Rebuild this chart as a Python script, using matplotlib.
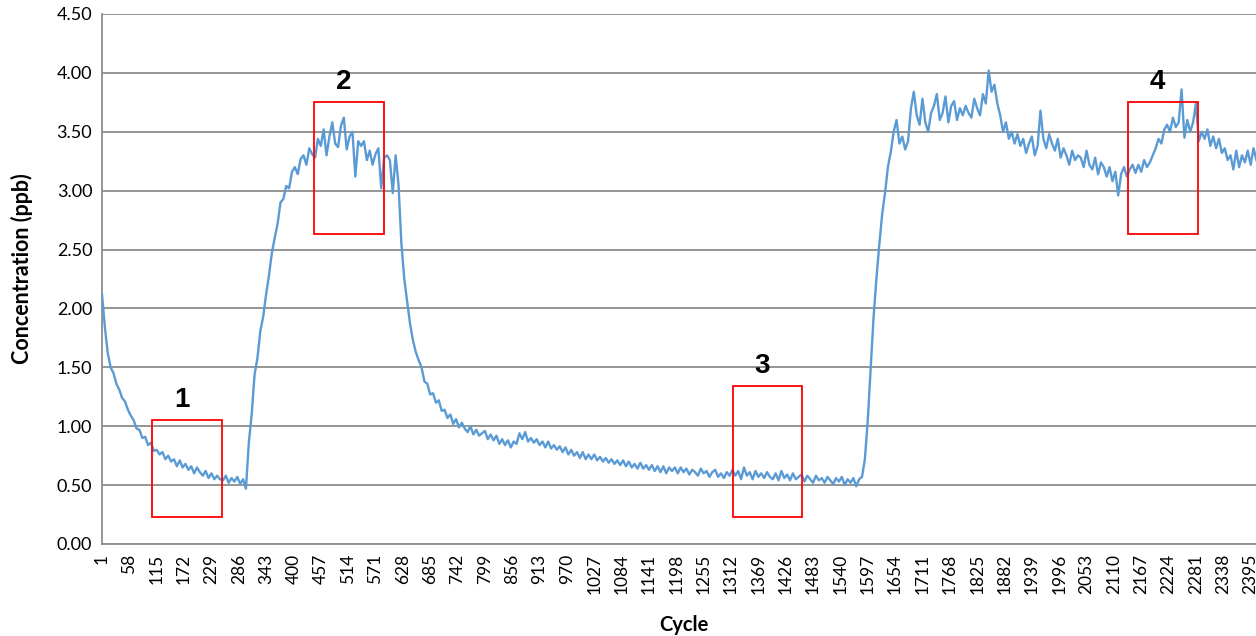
import matplotlib
matplotlib.use("Agg")
import matplotlib.pyplot as plt
from matplotlib.patches import Rectangle
import numpy as np

cycle_start = 1
cycle_step = 6
concentration = [
    2.12, 1.84, 1.62, 1.50, 1.45, 1.36, 1.31, 1.24, 1.21, 1.14,
    1.09, 1.05, 0.98, 0.97, 0.90, 0.91, 0.84, 0.86, 0.79, 0.80,
    0.76, 0.78, 0.72, 0.75, 0.70, 0.72, 0.66, 0.71, 0.65, 0.68,
    0.63, 0.66, 0.60, 0.65, 0.61, 0.58, 0.62, 0.56, 0.60, 0.55,
    0.58, 0.55, 0.54, 0.58, 0.52, 0.56, 0.53, 0.57, 0.51, 0.55,
    0.47, 0.86, 1.10, 1.44, 1.58, 1.81, 1.93, 2.12, 2.28, 2.47,
    2.60, 2.72, 2.90, 2.93, 3.04, 3.02, 3.16, 3.20, 3.14, 3.27,
    3.30, 3.22, 3.36, 3.31, 3.28, 3.44, 3.38, 3.52, 3.30, 3.46,
    3.58, 3.40, 3.37, 3.55, 3.62, 3.35, 3.46, 3.50, 3.12, 3.42,
    3.38, 3.42, 3.26, 3.34, 3.22, 3.31, 3.36, 3.02, 3.28, 3.30,
    3.26, 2.98, 3.30, 3.05, 2.55, 2.25, 2.06, 1.87, 1.73, 1.63,
    1.56, 1.50, 1.38, 1.36, 1.27, 1.28, 1.20, 1.22, 1.13, 1.14,
    1.07, 1.10, 1.02, 1.06, 0.99, 1.03, 0.98, 0.95, 1.00, 0.93,
    0.97, 0.92, 0.94, 0.96, 0.89, 0.93, 0.88, 0.92, 0.85, 0.89,
    0.84, 0.88, 0.82, 0.87, 0.85, 0.94, 0.89, 0.95, 0.87, 0.90,
    0.86, 0.89, 0.84, 0.87, 0.82, 0.87, 0.81, 0.84, 0.80, 0.83,
    0.78, 0.82, 0.76, 0.80, 0.75, 0.78, 0.73, 0.78, 0.72, 0.76,
    0.72, 0.76, 0.71, 0.74, 0.70, 0.73, 0.69, 0.72, 0.68, 0.71,
    0.67, 0.71, 0.66, 0.70, 0.65, 0.68, 0.64, 0.69, 0.64, 0.67,
    0.63, 0.67, 0.62, 0.66, 0.61, 0.66, 0.60, 0.65, 0.62, 0.65,
    0.60, 0.65, 0.61, 0.64, 0.59, 0.63, 0.61, 0.58, 0.64, 0.60,
    0.62, 0.57, 0.61, 0.63, 0.57, 0.60, 0.56, 0.61, 0.58, 0.63,
    0.58, 0.62, 0.55, 0.65, 0.58, 0.61, 0.55, 0.62, 0.57, 0.60,
    0.56, 0.61, 0.57, 0.55, 0.60, 0.54, 0.62, 0.56, 0.59, 0.54,
    0.60, 0.55, 0.57, 0.59, 0.53, 0.58, 0.55, 0.52, 0.58, 0.54,
    0.56, 0.52, 0.57, 0.54, 0.51, 0.56, 0.53, 0.57, 0.50, 0.55,
    0.52, 0.56, 0.49, 0.55, 0.57, 0.72, 1.05, 1.48, 1.92, 2.25,
    2.54, 2.80, 2.98, 3.20, 3.33, 3.50, 3.60, 3.40, 3.46, 3.35,
    3.42, 3.70, 3.84, 3.64, 3.56, 3.78, 3.58, 3.50, 3.66, 3.72,
    3.82, 3.60, 3.66, 3.80, 3.58, 3.72, 3.76, 3.60, 3.70, 3.64,
    3.72, 3.66, 3.62, 3.78, 3.70, 3.64, 3.82, 3.74, 4.02, 3.84,
    3.90, 3.74, 3.64, 3.50, 3.58, 3.44, 3.50, 3.40, 3.48, 3.38,
    3.44, 3.32, 3.40, 3.46, 3.30, 3.38, 3.68, 3.44, 3.36, 3.48,
    3.40, 3.34, 3.44, 3.28, 3.36, 3.30, 3.22, 3.34, 3.26, 3.30,
    3.28, 3.20, 3.34, 3.22, 3.18, 3.28, 3.14, 3.24, 3.20, 3.12,
    3.20, 3.08, 3.16, 2.96, 3.14, 3.20, 3.12, 3.18, 3.22, 3.15,
    3.22, 3.16, 3.26, 3.20, 3.24, 3.30, 3.36, 3.44, 3.40, 3.52,
    3.56, 3.50, 3.62, 3.54, 3.58, 3.86, 3.45, 3.60, 3.50, 3.58,
    3.74, 3.42, 3.50, 3.44, 3.52, 3.38, 3.46, 3.36, 3.44, 3.32,
    3.36, 3.26, 3.30, 3.18, 3.34, 3.20, 3.30, 3.24, 3.34, 3.22,
    3.36, 3.26,
]

x_tick_labels = ["1", "58", "115", "172", "229", "286", "343", "400", "457", "514",
                 "571", "628", "685", "742", "799", "856", "913", "970", "1027", "1084",
                 "1141", "1198", "1255", "1312", "1369", "1426", "1483", "1540", "1597", "1654",
                 "1711", "1768", "1825", "1882", "1939", "1996", "2053", "2110", "2167", "2224",
                 "2281", "2338", "2395"]
y_ticks = [0.0, 0.5, 1.0, 1.5, 2.0, 2.5, 3.0, 3.5, 4.0, 4.5]

# highlighted regions: (label, cycle_from, cycle_to, conc_low, conc_high)
region_labels = ["1", "2", "3", "4"]
region_cycle_from = [105, 443, 1316, 2139]
region_cycle_to = [251, 589, 1460, 2285]
region_low = [0.23, 2.63, 0.23, 2.63]
region_high = [1.05, 3.75, 1.34, 3.75]

# ---- figure ----
W, H = 1256, 636
fig = plt.figure(figsize=(W / 100, H / 100), dpi=100)
ax_left, ax_right, ax_top, ax_bottom = 102, 1256, 14, 544
ax = fig.add_axes([ax_left / W, 1 - ax_bottom / H, (ax_right - ax_left) / W, (ax_bottom - ax_top) / H])

cycles = cycle_start + cycle_step * np.arange(len(concentration))
ax.plot(cycles, concentration, color="#5b9bd5", lw=1.7, zorder=3)

px_per_cycle = 0.4798
ax.set_xlim(1, 1 + (ax_right - ax_left) / px_per_cycle)
ax.set_ylim(0, 4.5)

tick_pos = [int(t) for t in x_tick_labels]
ax.set_xticks(tick_pos)
ax.set_xticklabels(x_tick_labels, rotation=90, fontsize=12.5, family="Lato")
ax.set_yticks(y_ticks)
ax.set_yticklabels([f"{v:.2f}" for v in y_ticks], fontsize=13, family="Lato")
ax.tick_params(axis="y", length=0, pad=7)
ax.tick_params(axis="x", length=0, pad=7)

ax.grid(axis="y", color="#8c8c8c", lw=1.3, zorder=1)
ax.set_axisbelow(True)
for s in ["top", "right"]:
    ax.spines[s].set_visible(False)
for s in ["left", "bottom"]:
    ax.spines[s].set_color("#8c8c8c")
    ax.spines[s].set_linewidth(1.3)

ax.set_ylabel("Concentration (ppb)", fontsize=15.5, family="Lato", fontweight="bold")
ax.yaxis.set_label_coords(-(ax_left - 22) / (ax_right - ax_left), (ax_bottom - 269) / (ax_bottom - ax_top))
ax.yaxis.label.set_va("center")
ax.set_xlabel("Cycle", fontsize=14.5, family="Lato", fontweight="bold")
ax.xaxis.set_label_coords((684 - ax_left) / (ax_right - ax_left), -(625 - ax_bottom) / (ax_bottom - ax_top))
ax.xaxis.label.set_va("center")

label_shift = -11  # labels sit slightly left of box centres (in cycles)
for lab, c0, c1, lo, hi in zip(region_labels, region_cycle_from, region_cycle_to, region_low, region_high):
    ax.add_patch(Rectangle((c0, lo), c1 - c0, hi - lo, fill=False, edgecolor="#ff0000", lw=1.3, zorder=4))
    ax.text((c0 + c1) / 2 + label_shift, hi + 0.06, lab, ha="center", va="bottom", fontsize=20,
            fontweight="bold", family="Liberation Sans", color="black", zorder=5)

fig.savefig("out.png", dpi=100)
